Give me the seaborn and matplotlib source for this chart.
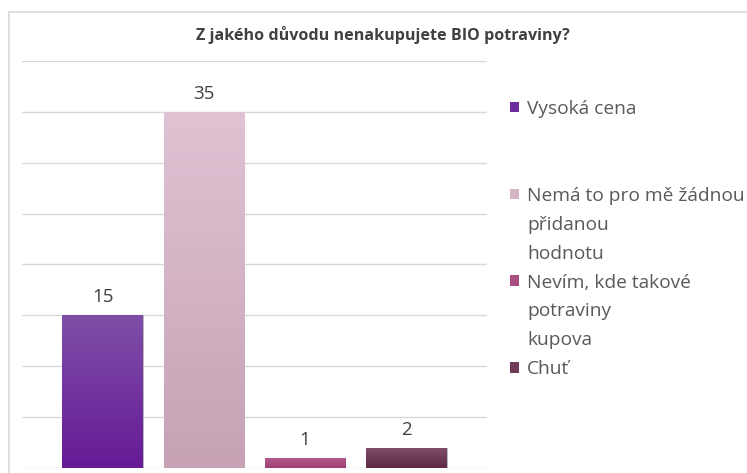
import numpy as np
import pandas as pd
import seaborn as sns
import matplotlib.pyplot as plt
from matplotlib.colors import LinearSegmentedColormap
from matplotlib.patches import Rectangle, Patch

sns.set_style('white')
plt.rcParams['font.family'] = ['Open Sans', 'DejaVu Sans']

# data
duvody = ['Vysoká cena', 'Nemá to pro mě žádnou přidanou hodnotu',
          'Nevím, kde takové potraviny kupova', 'Chuť']
pocty = [15, 35, 1, 2]
legenda_radky = [['Vysoká cena'],
                 ['Nemá to pro mě žádnou', 'přidanou', 'hodnotu'],
                 ['Nevím, kde takové', 'potraviny', 'kupova'],
                 ['Chuť']]
barvy_horni = ['#7f4fa8', '#dfc3d3', '#b45c8c', '#80506a']
barvy_dolni = ['#651a96', '#c6a2b4', '#a04075', '#5e2846']
barvy = ['#6e2c9e', '#d4b3c4', '#aa4d80', '#6e3a58']

df = pd.DataFrame({'duvod': duvody, 'pocet': pocty})

fig = plt.figure(figsize=(7.47, 4.73), dpi=100)
fig.patches.append(Rectangle((8.5 / 747, -0.05), 1.1, 1 - 12.5 / 473 + 0.05,
                             transform=fig.transFigure, fill=False,
                             edgecolor='#d9d9d9', linewidth=1.2, zorder=0))
ax = fig.add_axes([22 / 747, 5 / 473, 465 / 747, 407 / 473])

sns.barplot(data=df, x='duvod', y='pocet', hue='duvod', palette=barvy,
            width=0.8, legend=False, ax=ax, zorder=2)

# gradient on bars
for bar, c1, c2 in zip(ax.patches, barvy_horni, barvy_dolni):
    cmap = LinearSegmentedColormap.from_list('g', [c2, c1])
    x0, y0 = bar.get_x(), bar.get_y()
    w, h = bar.get_width(), bar.get_height()
    grad = np.linspace(0, 1, 100).reshape(-1, 1)
    im = ax.imshow(grad, cmap=cmap, aspect='auto', origin='lower',
                   extent=[x0, x0 + w, y0, y0 + h], zorder=3)
    im.set_clip_path(bar)
    bar.set_edgecolor('#bdbdbd')
    bar.set_linewidth(0.6)

for i, v in enumerate(pocty):
    ax.text(i, v + 1.77, str(v), ha='center', va='center',
            fontsize=13.5, color='#404040', zorder=4)

ax.set_xlim(-0.8, 3.8)
ax.set_ylim(0, 40)
ax.set_yticks(range(0, 41, 5))
ax.grid(axis='y', color='#d9d9d9', linewidth=1)
ax.set_axisbelow(True)
ax.set_xticks([])
ax.set_yticklabels([])
ax.tick_params(left=False, bottom=False)
ax.set_xlabel('')
ax.set_ylabel('')
sns.despine(ax=ax, left=True, top=True, right=True, bottom=True)

fig.text(382.5 / 747, 1 - 35 / 473, 'Z jakého důvodu nenakupujete BIO potraviny?',
         ha='center', va='center', fontsize=11.6, fontweight='bold', color='#404040')

# legend: first line with a square, continuation lines without
handles, labels = [], []
for radky, c in zip(legenda_radky, barvy):
    for j, r in enumerate(radky):
        handles.append(Patch(facecolor=c if j == 0 else 'none', edgecolor='none'))
        labels.append(r)
    if len(radky) == 1 and radky[0] == 'Vysoká cena':
        for _ in range(2):
            handles.append(Patch(facecolor='none', edgecolor='none'))
            labels.append(' ')
leg = fig.legend(handles, labels, loc='upper left',
                 bbox_to_anchor=(510 / 747, 1 - 100 / 473), frameon=False,
                 fontsize=13.8, labelcolor='#595959', handlelength=0.47,
                 handleheight=0.47, handletextpad=0.42, labelspacing=0.57,
                 borderpad=0, borderaxespad=0)

fig.savefig('out.png', dpi=100)
